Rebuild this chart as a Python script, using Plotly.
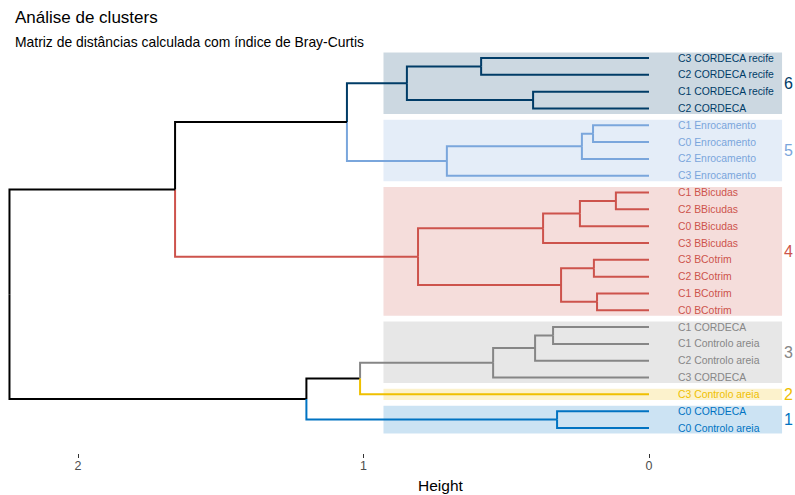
import plotly.graph_objects as go

# ---------------- data ----------------
leaf_labels = ["C3 CORDECA recife", "C2 CORDECA recife", "C1 CORDECA recife", "C2 CORDECA",
               "C1 Enrocamento", "C0 Enrocamento", "C2 Enrocamento", "C3 Enrocamento",
               "C1 BBicudas", "C2 BBicudas", "C0 BBicudas", "C3 BBicudas",
               "C3 BCotrim", "C2 BCotrim", "C1 BCotrim", "C0 BCotrim",
               "C1 CORDECA", "C1 Controlo areia", "C2 Controlo areia", "C3 CORDECA",
               "C3 Controlo areia", "C0 CORDECA", "C0 Controlo areia"]
leaf_clusters = [6, 6, 6, 6, 5, 5, 5, 5, 4, 4, 4, 4, 4, 4, 4, 4, 3, 3, 3, 3, 2, 1, 1]

# merges: (child a, child b, height); ints refer to earlier merges
merges = [
    ("C3 CORDECA recife", "C2 CORDECA recife", 0.588),   # 0
    ("C1 CORDECA recife", "C2 CORDECA", 0.406),          # 1
    (0, 1, 0.848),                                       # 2
    ("C1 Enrocamento", "C0 Enrocamento", 0.196),         # 3
    (3, "C2 Enrocamento", 0.235),                        # 4
    (4, "C3 Enrocamento", 0.708),                        # 5
    (2, 5, 1.058),                                       # 6
    ("C1 BBicudas", "C2 BBicudas", 0.116),               # 7
    (7, "C0 BBicudas", 0.242),                           # 8
    (8, "C3 BBicudas", 0.371),                           # 9
    ("C3 BCotrim", "C2 BCotrim", 0.193),                 # 10
    ("C1 BCotrim", "C0 BCotrim", 0.182),                 # 11
    (10, 11, 0.308),                                     # 12
    (9, 12, 0.809),                                      # 13
    (6, 13, 1.66),                                       # 14
    ("C1 CORDECA", "C1 Controlo areia", 0.336),          # 15
    (15, "C2 Controlo areia", 0.399),                    # 16
    (16, "C3 CORDECA", 0.546),                           # 17
    (17, "C3 Controlo areia", 1.012),                    # 18
    ("C0 CORDECA", "C0 Controlo areia", 0.322),          # 19
    (18, 19, 1.20),                                      # 20
    (14, 20, 2.24),                                      # 21
]

cluster_colors = {1: "#0073C2", 2: "#EFC000", 3: "#868686",
                  4: "#CD534C", 5: "#7AA6DC", 6: "#003C67"}
cluster_fills = {1: "rgba(0,115,194,0.2)", 2: "rgba(239,192,0,0.2)", 3: "rgba(134,134,134,0.2)",
                 4: "rgba(205,83,76,0.2)", 5: "rgba(122,166,220,0.2)", 6: "rgba(0,60,103,0.2)"}
x_ticks = [2, 1, 0]

# ---------------- build geometry ----------------
n = len(leaf_labels)
leaf_y = {lab: n - i for i, lab in enumerate(leaf_labels)}
leaf_cl = dict(zip(leaf_labels, leaf_clusters))

node_info = []  # (y, height, set of clusters)


def child_info(c):
    if isinstance(c, int):
        return node_info[c]
    return (leaf_y[c], 0.0, {leaf_cl[c]})


segments = {}  # color -> (xs, ys)


def add_seg(color, xs, ys):
    s = segments.setdefault(color, ([], []))
    s[0].extend(xs + [None])
    s[1].extend(ys + [None])


for a, b, h in merges:
    ia, ib = child_info(a), child_info(b)
    y = (ia[0] + ib[0]) / 2
    for ci in (ia, ib):
        col = cluster_colors[next(iter(ci[2]))] if len(ci[2]) == 1 else "#000000"
        add_seg(col, [h, h, ci[1]], [y, ci[0], ci[0]])
    node_info.append((y, h, ia[2] | ib[2]))

fig = go.Figure()
for col, (xs, ys) in segments.items():
    fig.add_trace(go.Scatter(x=xs, y=ys, mode="lines", line=dict(color=col, width=2),
                             hoverinfo="skip", showlegend=False))

# cluster rectangles and numbers
pad = 0.33
rect_x0, rect_x1 = 0.93, -0.466
for cl in sorted(set(leaf_clusters)):
    ys = [leaf_y[l] for l in leaf_labels if leaf_cl[l] == cl]
    fig.add_shape(type="rect", x0=rect_x0, x1=rect_x1, y0=min(ys) - pad, y1=max(ys) + pad,
                  fillcolor=cluster_fills[cl], line=dict(width=0), layer="below")
    fig.add_annotation(xref="paper", x=0.999, y=(min(ys) + max(ys)) / 2, text=str(cl),
                       showarrow=False, xanchor="right", yanchor="middle", borderpad=0,
                       font=dict(size=16, color=cluster_colors[cl]))

for lab in leaf_labels:
    fig.add_annotation(x=-0.095, y=leaf_y[lab], text=lab, showarrow=False,
                       xanchor="left", yanchor="middle",
                       font=dict(size=10.4, color=cluster_colors[leaf_cl[lab]]))

# titles
top_px, bot_px = 48, 453
ph = bot_px - top_px
fig.add_annotation(xref="paper", yref="paper", x=0.016, y=(bot_px - 18) / ph, text="Análise de clusters",
                   showarrow=False, xanchor="left", yanchor="middle",
                   font=dict(size=17, color="#000000"))
fig.add_annotation(xref="paper", yref="paper", x=0.016, y=(bot_px - 42) / ph,
                   text="Matriz de distâncias calculada com índice de Bray-Curtis",
                   showarrow=False, xanchor="left", yanchor="middle",
                   font=dict(size=13.9, color="#000000"))
fig.add_annotation(xref="paper", yref="paper", x=440 / 795, y=(bot_px - 485) / ph,
                   text="Height", showarrow=False, xanchor="center", yanchor="middle",
                   font=dict(size=15.5, color="#000000"))

fig.update_layout(
    width=795, height=495,
    margin=dict(l=0, r=0, t=top_px, b=495 - bot_px),
    paper_bgcolor="white", plot_bgcolor="white",
    font=dict(family="Liberation Sans, Arial, sans-serif"),
    xaxis=dict(range=[649 / 285.5, (649 - 795) / 285.5], tickvals=x_ticks,
               ticktext=[str(t) for t in x_ticks], ticks="outside", ticklen=4,
               ticklabelstandoff=-3,
               tickcolor="#333333", tickfont=dict(size=12.5, color="#4d4d4d"),
               showgrid=False, zeroline=False, showline=False),
    yaxis=dict(range=[1 - (bot_px - 428) / 16.82, n + (58 - top_px) / 16.82],
               showticklabels=False, showgrid=False,
               zeroline=False, showline=False, ticks=""),
)

fig.write_html("out.html", config={"displayModeBar": False},
               post_script="document.body.style.margin='0px';")
